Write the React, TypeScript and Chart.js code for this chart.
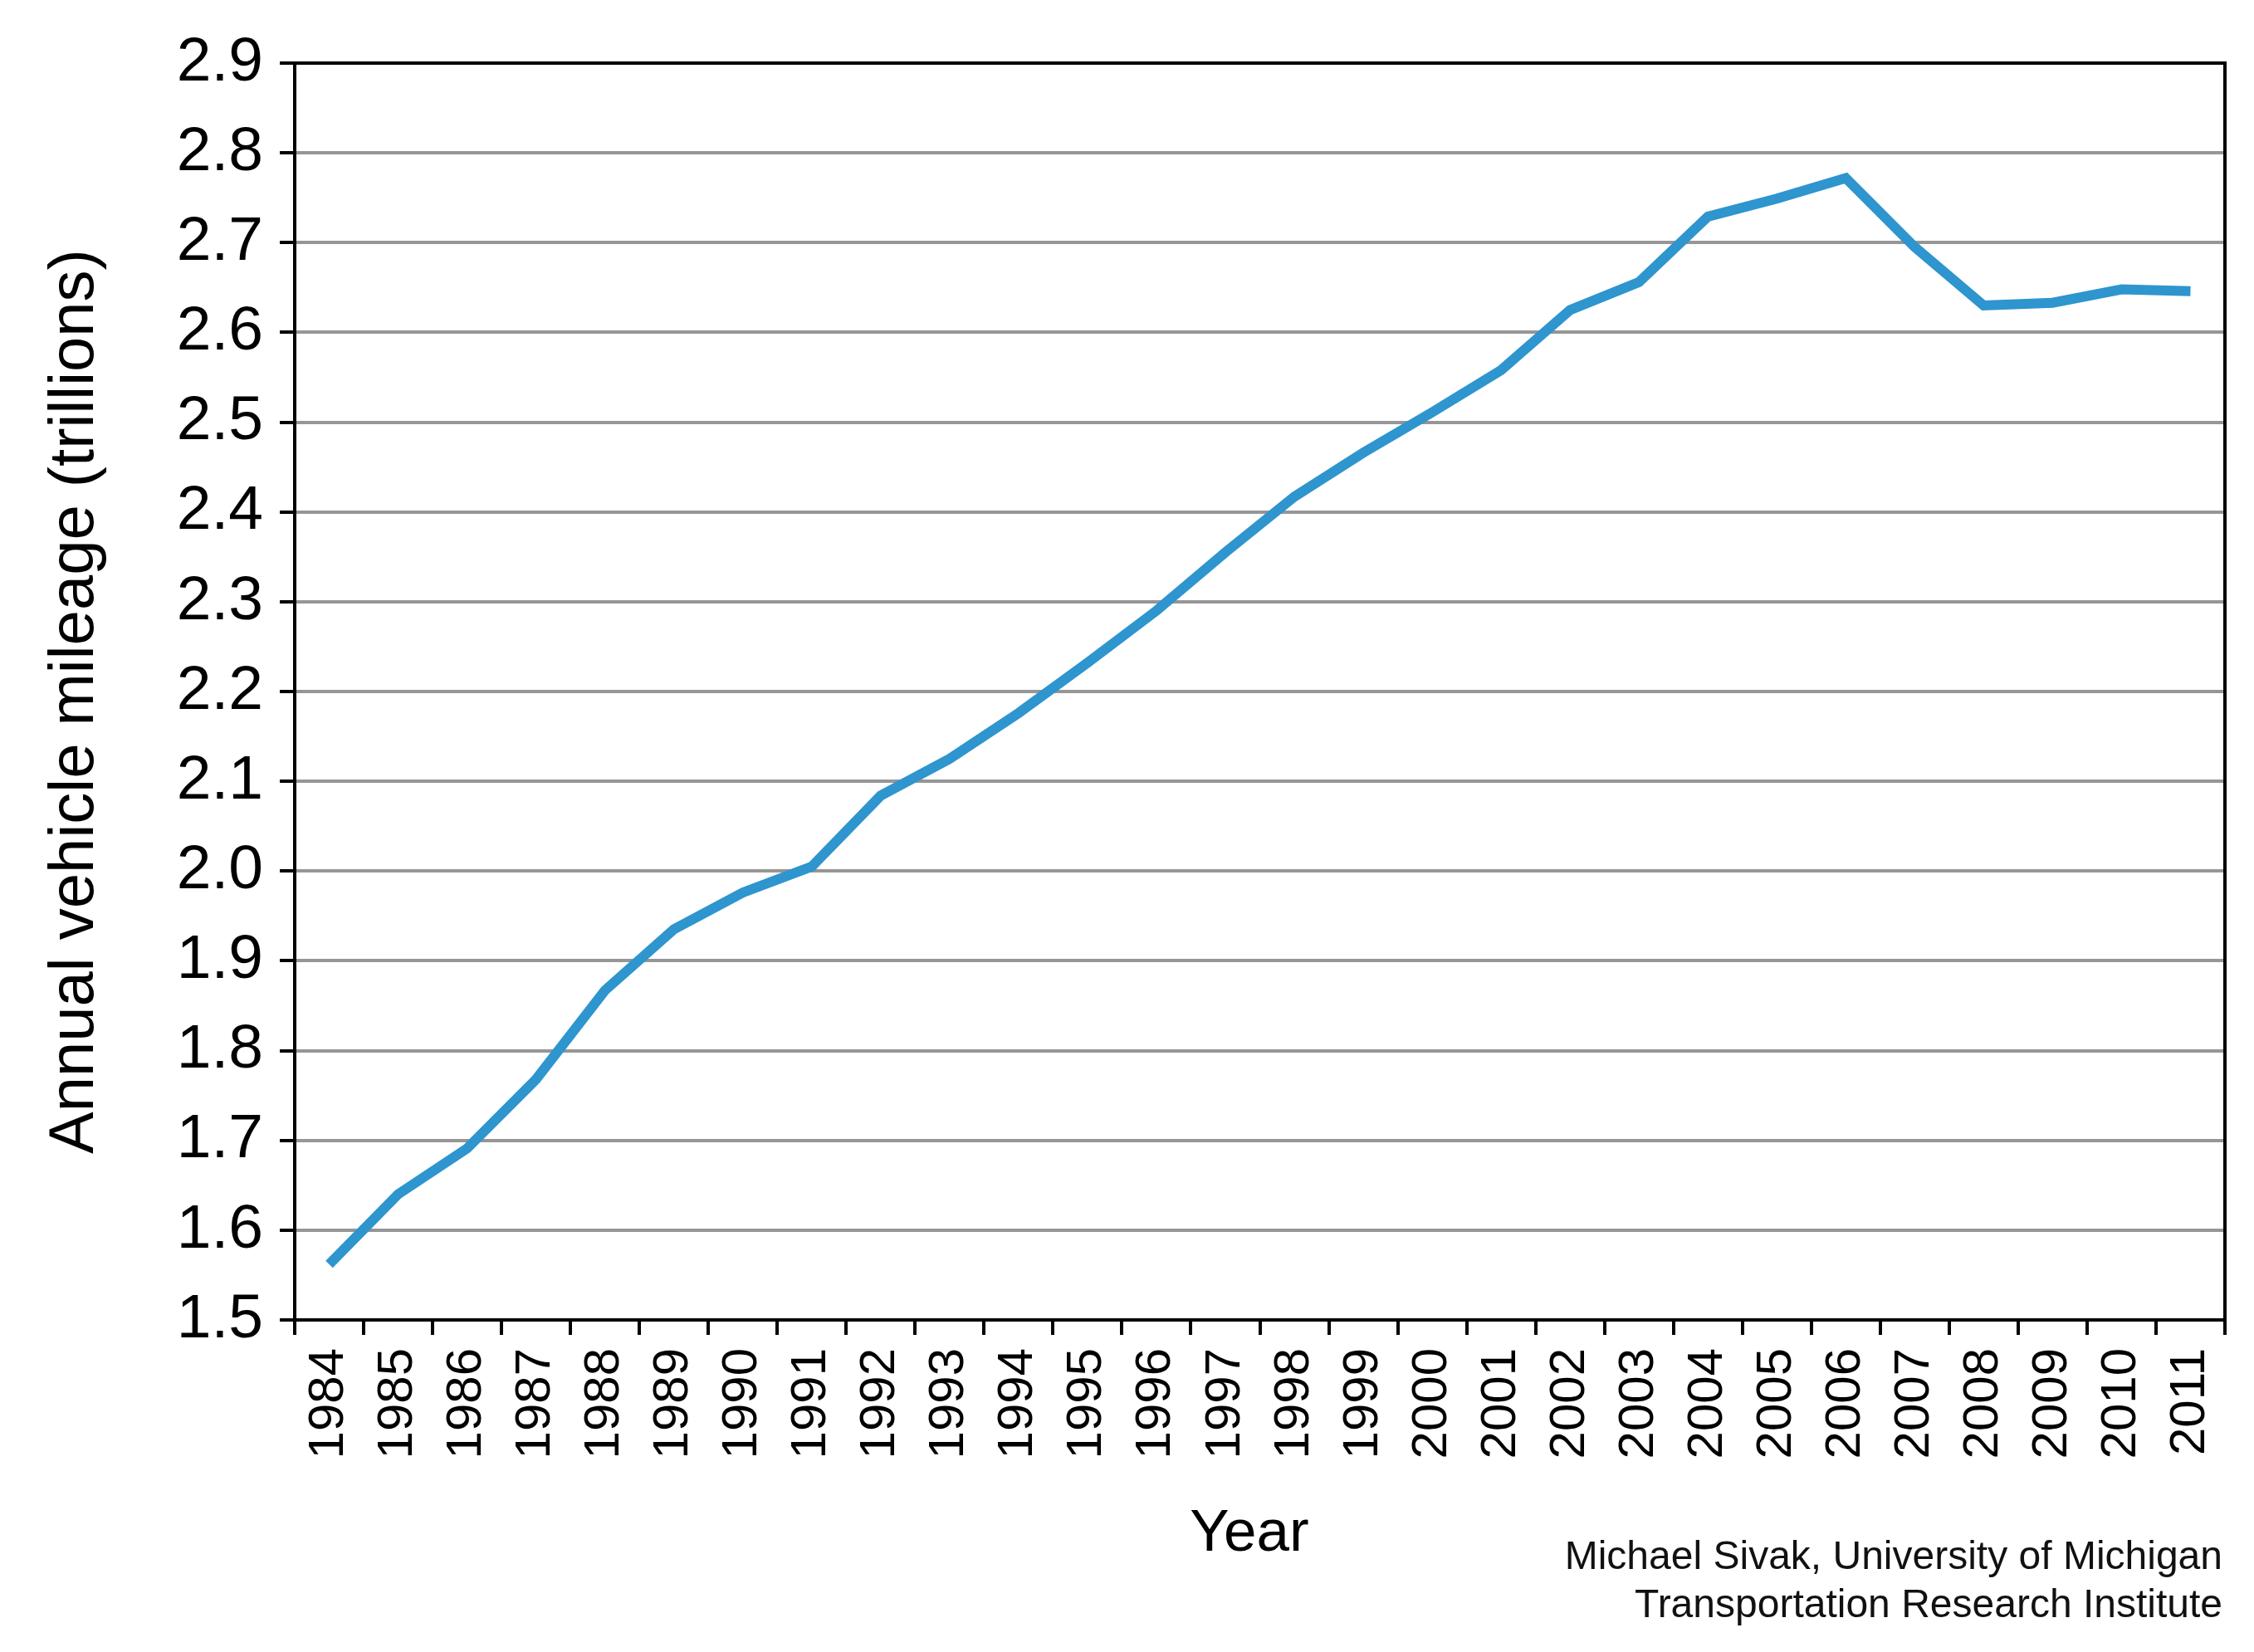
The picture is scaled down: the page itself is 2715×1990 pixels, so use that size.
import React, { useEffect, useRef } from "react";
import { Chart, registerables } from "chart.js";

Chart.register(...registerables);

const years = [
  "1984", "1985", "1986", "1987", "1988", "1989", "1990", "1991", "1992", "1993",
  "1994", "1995", "1996", "1997", "1998", "1999", "2000", "2001", "2002", "2003",
  "2004", "2005", "2006", "2007", "2008", "2009", "2010", "2011",
];

const mileage = [
  1.562, 1.64, 1.691, 1.768, 1.867, 1.935, 1.976, 2.005, 2.084, 2.125,
  2.176, 2.232, 2.29, 2.355, 2.417, 2.466, 2.511, 2.558, 2.625, 2.656,
  2.729, 2.749, 2.772, 2.695, 2.63, 2.633, 2.648, 2.646,
];

const yMin = 1.5;
const yMax = 2.9;
const yStep = 0.1;

const yTitle = "Annual vehicle mileage (trillions)";
const xTitle = "Year";
const creditLines = ["Michael Sivak, University of Michigan", "Transportation Research Institute"];

const W = 2715;
const H = 1990;
const FONT = "'Liberation Sans', Arial, sans-serif";

export default function App() {
  const ref = useRef<HTMLCanvasElement | null>(null);

  useEffect(() => {
    document.body.style.margin = "0";
    const canvas = ref.current;
    if (!canvas) return;

    const decor = {
      id: "decor",
      afterDraw(chart: any) {
        const { ctx, chartArea } = chart;
        ctx.save();
        // top and right frame
        ctx.strokeStyle = "#000";
        ctx.lineWidth = 4;
        ctx.beginPath();
        ctx.moveTo(chartArea.left - 2, chartArea.top);
        ctx.lineTo(chartArea.right, chartArea.top);
        ctx.lineTo(chartArea.right, chartArea.bottom);
        ctx.stroke();

        ctx.fillStyle = "#000";
        // y title
        ctx.save();
        ctx.translate(112, (chartArea.top + chartArea.bottom) / 2 + 12);
        ctx.rotate(-Math.PI / 2);
        ctx.font = `76px ${FONT}`;
        ctx.textAlign = "center";
        ctx.textBaseline = "alphabetic";
        ctx.fillText(yTitle, 0, 0);
        ctx.restore();

        // x title
        ctx.font = `71px ${FONT}`;
        ctx.textAlign = "center";
        ctx.textBaseline = "alphabetic";
        ctx.fillText(xTitle, 1505, 1868);

        // credit
        ctx.font = `48px ${FONT}`;
        ctx.textAlign = "right";
        ctx.fillStyle = "#111";
        ctx.fillText(creditLines[0], 2677, 1890);
        ctx.fillText(creditLines[1], 2677, 1948);
        ctx.restore();
      },
    };

    const chart = new Chart(canvas, {
      type: "line",
      data: {
        labels: years,
        datasets: [
          {
            data: mileage,
            borderColor: "#2E95CE",
            borderWidth: 12,
            pointRadius: 0,
            tension: 0,
            fill: false,
            borderJoinStyle: "miter",
            borderCapStyle: "butt",
          },
        ],
      },
      options: {
        responsive: false,
        animation: false,
        devicePixelRatio: 1,
        events: [],
        layout: { padding: { top: 76, right: 35, left: 0, bottom: 0 } },
        plugins: { legend: { display: false }, tooltip: { enabled: false }, title: { display: false } },
        scales: {
          x: {
            type: "category",
            offset: true,
            afterFit(scale: any) {
              scale.height = H - 1590;
              scale.paddingLeft = 0;
              scale.paddingRight = 0;
            },
            grid: {
              offset: true,
              drawOnChartArea: false,
              drawTicks: true,
              tickLength: 18,
              tickColor: "#000",
              tickWidth: 4,
              color: "#000",
              lineWidth: 4,
            },
            border: { display: true, color: "#000", width: 4 },
            ticks: {
              autoSkip: false,
              maxRotation: 90,
              minRotation: 90,
              padding: 16,
              color: "#000",
              font: { family: FONT, size: 60 },
            },
          },
          y: {
            min: yMin,
            max: yMax,
            afterFit(scale: any) {
              scale.width = 355;
            },
            grid: {
              color: "#969696",
              lineWidth: 4,
              drawTicks: true,
              tickLength: 18,
              tickColor: "#000",
              tickWidth: 4,
            },
            border: { display: true, color: "#000", width: 4 },
            ticks: {
              stepSize: yStep,
              padding: 20,
              color: "#000",
              font: { family: FONT, size: 75 },
              callback: (v: any) => Number(v).toFixed(1),
            },
          },
        },
      },
      plugins: [decor],
    });

    return () => chart.destroy();
  }, []);

  return (
    <div style={{ width: W, height: H, background: "#fff" }}>
      <canvas ref={ref} width={W} height={H} style={{ width: W, height: H, display: "block" }} />
    </div>
  );
}
